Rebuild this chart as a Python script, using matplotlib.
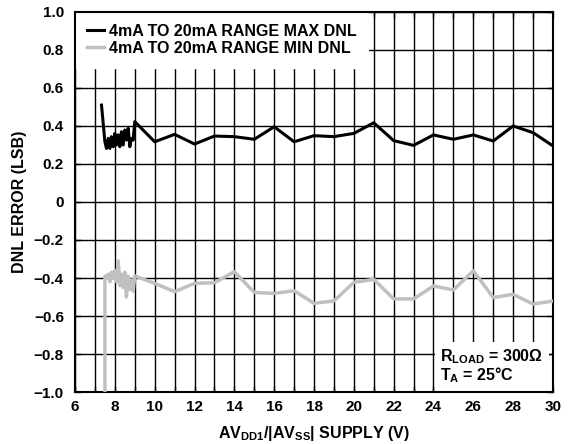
import matplotlib; matplotlib.use("Agg")
import matplotlib.pyplot as plt

# supply voltage (V) and DNL readings
max_v = [7.33, 7.5, 7.58, 7.67, 7.75, 7.83, 7.92, 8.0, 8.08, 8.17, 8.25, 8.33, 8.42,
         8.5, 8.58, 8.67, 8.75, 8.83, 8.92, 9.0,
         10, 11, 12, 13, 14, 15, 16, 17, 18, 19, 20, 21, 22, 23, 24, 25, 26, 27, 28, 29, 30]
max_dnl = [0.51, 0.317, 0.282, 0.335, 0.282, 0.344, 0.291, 0.361, 0.30, 0.353, 0.291,
           0.37, 0.30, 0.379, 0.326, 0.388, 0.291, 0.335, 0.326, 0.423,
           0.317, 0.356, 0.305, 0.347, 0.344, 0.33, 0.396, 0.317, 0.349, 0.344, 0.361,
           0.417, 0.323, 0.298, 0.353, 0.33, 0.353, 0.321, 0.40, 0.365, 0.295]

min_v = [7.5, 7.5, 7.58, 7.67, 7.75, 7.83, 7.92, 8.0, 8.08, 8.17, 8.25, 8.33, 8.42,
         8.5, 8.58, 8.67, 8.75, 8.83, 8.92, 9.0,
         10, 11, 12, 13, 14, 15, 16, 17, 18, 19, 20, 21, 22, 23, 24, 25, 26, 27, 28, 29, 30]
min_dnl = [-1.1, -0.39, -0.40, -0.38, -0.42, -0.37, -0.40, -0.36, -0.42, -0.31, -0.44,
           -0.38, -0.45, -0.37, -0.50, -0.39, -0.46, -0.41, -0.47, -0.389,
           -0.428, -0.472, -0.428, -0.425, -0.367, -0.476, -0.481, -0.467, -0.533, -0.521,
           -0.423, -0.407, -0.51, -0.51, -0.442, -0.463, -0.362, -0.503, -0.486, -0.537, -0.521]

x_ticks = list(range(6, 31, 2))
x_grid = list(range(6, 31))
y_ticks = [-1.0, -0.8, -0.6, -0.4, -0.2, 0, 0.2, 0.4, 0.6, 0.8, 1.0]

plt.rcParams['font.family'] = ['Liberation Sans', 'DejaVu Sans']
plt.rcParams['font.weight'] = 'bold'
plt.rcParams['mathtext.fontset'] = 'custom'
plt.rcParams['mathtext.rm'] = 'Liberation Sans:bold'
plt.rcParams['mathtext.it'] = 'Liberation Sans:bold'
plt.rcParams['mathtext.bf'] = 'Liberation Sans:bold'

fig = plt.figure(figsize=(5.74, 4.44), dpi=100)
ax = fig.add_axes([0.1307, 0.1171, 0.8327, 0.8559])

# grid drawn as plain lines so the legend / note boxes can sit over it
for v in x_grid:
    ax.axvline(v, color='black', lw=1.0, zorder=1)
for v in y_ticks:
    ax.axhline(v, color='black', lw=1.0, zorder=1)

ax.plot(max_v, max_dnl, color='black', lw=2.2, zorder=3,
        label='4mA TO 20mA RANGE MAX DNL')
ax.plot(min_v, min_dnl, color='#c0c0c0', lw=2.5, zorder=3,
        label='4mA TO 20mA RANGE MIN DNL')

ax.set_xlim(6, 30)
ax.set_ylim(-1, 1)
ax.set_xticks(x_ticks)
ax.set_xticks(x_grid, minor=True)
ax.set_yticks(y_ticks)
ax.set_yticklabels([f'{v:.1f}'.replace('-', '\u2212') if v != 0 else '0' for v in y_ticks])
ax.tick_params(which='both', direction='in', top=True, right=True, length=4.5,
               labelsize=11, width=1)
ax.tick_params(axis='x', pad=6)
ax.tick_params(axis='y', pad=8)
for s in ax.spines.values():
    s.set_linewidth(1.5)

ax.set_xlabel(r'AV$_{\mathrm{DD1}}$/|AV$_{\mathrm{SS}}$| SUPPLY (V)', fontsize=11.5,
              fontweight='bold', labelpad=7)
ax.set_ylabel('DNL ERROR (LSB)', fontsize=11.5, fontweight='bold', labelpad=5)

leg = ax.legend(loc='upper left', handlelength=1.05, handletextpad=0.3,
                labelspacing=0.1, borderaxespad=0.0, borderpad=0.75,
                fancybox=False, framealpha=1, edgecolor='white',
                prop={'weight': 'bold', 'size': 11.5})
leg.set_zorder(2)

ax.text(0.764, 0.018, r'R$_{\mathrm{LOAD}}$ = 300Ω' + '\n' + r'T$_{\mathrm{A}}$ = 25°C',
        transform=ax.transAxes, ha='left', va='bottom', fontsize=11.5,
        fontweight='bold', linespacing=0.95, zorder=2,
        bbox=dict(facecolor='white', edgecolor='none', pad=4))

fig.savefig('out.png', dpi=100)
